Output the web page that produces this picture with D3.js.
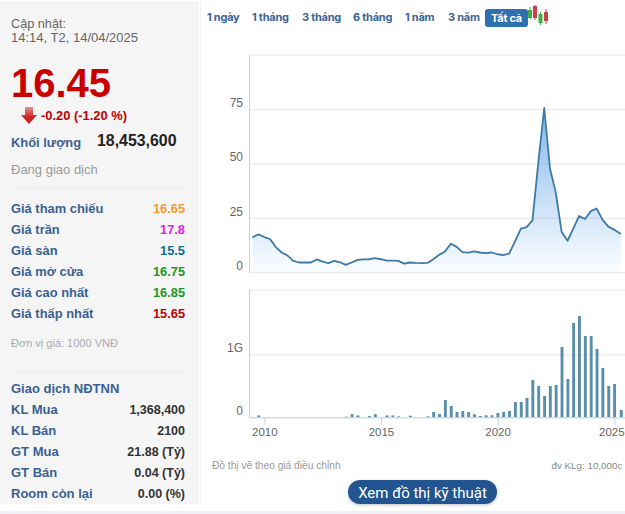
<!DOCTYPE html>
<html><head><meta charset="utf-8">
<script src="https://cdnjs.cloudflare.com/ajax/libs/d3/7.8.5/d3.min.js"></script>
<style>html,body{margin:0;padding:0;background:#fff;overflow:hidden}svg{display:block}text{font-family:"Liberation Sans",Arial,sans-serif}</style>
</head><body><svg id="c" width="625" height="514"></svg>
<script>
// ---- data ----
const quarterDates = ["2009-06-30","2009-09-30","2009-12-31","2010-03-31","2010-06-30","2010-09-30","2010-12-31","2011-03-31","2011-06-30","2011-09-30","2011-12-31","2012-03-31","2012-06-30","2012-09-30","2012-12-31","2013-03-31","2013-06-30","2013-09-30","2013-12-31","2014-03-31","2014-06-30","2014-09-30","2014-12-31","2015-03-31","2015-06-30","2015-09-30","2015-12-31","2016-03-31","2016-06-30","2016-09-30","2016-12-31","2017-03-31","2017-06-30","2017-09-30","2017-12-31","2018-03-31","2018-06-30","2018-09-30","2018-12-31","2019-03-31","2019-06-30","2019-09-30","2019-12-31","2020-03-31","2020-06-30","2020-09-30","2020-12-31","2021-03-31","2021-06-30","2021-09-30","2021-12-31","2022-03-31","2022-06-30","2022-09-30","2022-12-31","2023-03-31","2023-06-30","2023-09-30","2023-12-31","2024-03-31","2024-06-30","2024-09-30","2024-12-31","2025-04-14"];
const prices = [16.05,17.4,16.2,15.3,11.6,9.1,7.7,5.25,4.5,4.5,4.5,5.9,4.9,4.2,5.25,4.6,3.4,4.5,5.7,5.9,6.0,6.5,6.0,5.4,5.4,5.25,4.0,4.5,4.3,4.2,4.3,6.0,8.0,9.6,13.1,11.7,9.3,9.0,9.6,9.1,8.8,9.1,8.3,7.9,8.6,14.2,20.1,20.8,23.9,50.5,75.5,47.7,36.6,18.5,14.5,20.1,25.9,24.5,28.1,29.3,24.2,21,19.6,17.6];
const volumesG = [0,.03,0,0,0,0,0,0,0,0,0,0,0,0,0,0,.01,.05,.03,0,.02,.05,0,.03,.03,.015,0,.025,0,0,.016,.085,.053,.275,.18,.085,.10,.085,.048,.021,.032,.032,.069,.085,.10,.243,.243,.307,.593,.497,.339,.497,.513,1.116,.608,1.497,1.608,1.291,1.291,1.085,.783,.497,.529,.116];
const priceTicks = [0,25,50,75,100];
const volumeTicks = [0,1];
const yearTicks = [2010,2015,2020,2025];
const rangeTabs = [["1 ngày",207],["1 tháng",252],["3 tháng",302],["6 tháng",353],["1 năm",405],["3 năm",448]];
const priceRowLabels = ["Giá tham chiếu","Giá trần","Giá sàn","Giá mở cửa","Giá cao nhất","Giá thấp nhất"];
const priceRowValues = ["16.65","17.8","15.5","16.75","16.85","15.65"];
const priceRowColors = ["#f59a2f","#e61fdc","#126f92","#1c981c","#1c981c","#c40000"];
const foreignLabels = ["KL Mua","KL Bán","GT Mua","GT Bán","Room còn lại"];
const foreignValues = ["1,368,400","2100","21.88 (Tỷ)","0.04 (Tỷ)","0.00 (%)"];

// ---- helpers ----
const svg = d3.select("#c");
const blue = "#3a6194";
function t(x,y,s,o={}){return svg.append("text").attr("x",x).attr("y",y).text(s)
  .attr("font-size",o.size||13).attr("font-weight",o.w||"normal").attr("fill",o.fill||"#333")
  .attr("text-anchor",o.anchor||"start").style("font-family",o.font||null).style("letter-spacing",o.ls||null);}

// ---- panels ----
svg.append("rect").attr("x",0).attr("y",1).attr("width",199).attr("height",503).attr("fill","#f5f5f6");
svg.append("rect").attr("x",0).attr("y",511).attr("width",625).attr("height",3).attr("fill","#eef0f3");
svg.append("line").attr("x1",200.5).attr("x2",200.5).attr("y1",0).attr("y2",504).attr("stroke","#f2f2f2");

// left column
t(11,28,"Cập nhật:",{size:12.7,fill:"#666"});
t(11,42,"14:14, T2, 14/04/2025",{size:13,fill:"#666"});
t(11,97,"16.45",{size:40,w:"bold",fill:"#c90000"});
const arrow = d3.path();
arrow.moveTo(25,107);arrow.lineTo(33,107);arrow.lineTo(33,115);arrow.lineTo(37,115);arrow.lineTo(29,124);arrow.lineTo(21,115);arrow.lineTo(25,115);arrow.closePath();
const defs = svg.append("defs");
const ag = defs.append("linearGradient").attr("id","arr").attr("x1",0).attr("x2",0).attr("y1",0).attr("y2",1);
ag.append("stop").attr("offset",0).attr("stop-color","#e89090");
ag.append("stop").attr("offset",.6).attr("stop-color","#cf2020");
svg.append("path").attr("d",arrow.toString()).attr("fill","url(#arr)");
t(41,120,"-0.20 (-1.20 %)",{size:12.9,w:"bold",fill:"#c40000"});
t(11,147,"Khối lượng",{size:12.9,w:"bold",fill:blue});
t(97,146,"18,453,600",{size:15.9,w:"bold",fill:"#222"});
t(11,174,"Đang giao dịch",{size:13,fill:"#999"});
svg.append("line").attr("x1",11).attr("x2",186).attr("y1",187.5).attr("y2",187.5).attr("stroke","#ececec");
priceRowLabels.forEach((l,i)=>{const y=212.5+21*i;
  t(11,y,l,{size:12.9,w:"bold",fill:blue});
  t(185,y,priceRowValues[i],{size:12.8,w:"bold",fill:priceRowColors[i],anchor:"end"});});
t(11,347,"Đơn vị giá: 1000 VNĐ",{size:11,fill:"#aaa"});
svg.append("line").attr("x1",11).attr("x2",186).attr("y1",372.5).attr("y2",372.5).attr("stroke","#ececec");
t(11,392.5,"Giao dịch NĐTNN",{size:13,w:"bold",fill:blue});
foreignLabels.forEach((l,i)=>{const y=413.5+21*i;
  t(11,y,l,{size:13,w:"bold",fill:blue});
  t(185,y,foreignValues[i],{size:12.5,w:"bold",fill:"#333",anchor:"end"});});

// range tabs
rangeTabs.forEach(([l,x])=>t(x,21,l,{size:11,w:700,fill:"#3d6594",font:"Inter",ls:"-0.25px"}));
svg.append("rect").attr("x",485).attr("y",9).attr("width",43).attr("height",18).attr("rx",3).attr("fill","#2f70b0");
t(506.5,21.5,"Tất cả",{size:11,w:700,fill:"#fff",anchor:"middle",font:"Inter",ls:"-0.25px"});
// candle icon
[[530,10,18,7,19,"#3cb043"],[535,6,18,5,20,"#c9404a"],[540.5,14,23,12,25,"#3cb043"],[546,12,21,9,24,"#c9404a"]].forEach(([x,a,b,w1,w2,c])=>{
  svg.append("line").attr("x1",x).attr("x2",x).attr("y1",w1).attr("y2",w2).attr("stroke",c);
  svg.append("rect").attr("x",x-2).attr("y",a).attr("width",4).attr("height",b-a).attr("fill",c);});

// ---- scales ----
const dates = quarterDates.map(d=>new Date(d+"T00:00:00Z"));
const x = d3.scaleUtc().domain([new Date("2010-01-01T00:00:00Z"),new Date("2025-01-01T00:00:00Z")]).range([264.3,614.3]);
const yP = d3.scaleLinear().domain([0,100]).range([272.3,54.7]);
const yV = d3.scaleLinear().domain([0,2.025]).range([417.3,289.7]);
const L = 249.5, R = 625;

// gridlines and axes
const gridP = d3.axisLeft(yP).tickValues(priceTicks).tickSize(-(R-L)).tickFormat(d=>d===100?"":d);
const gP = svg.append("g").attr("transform",`translate(${L},0)`).call(gridP);
const gridV = d3.axisLeft(yV).tickValues(volumeTicks.concat([2.025])).tickSize(-(R-L)).tickFormat(d=>d===0?"0":d===1?"1G":"");
const gV = svg.append("g").attr("transform",`translate(${L},0)`).call(gridV);
[gP,gV].forEach(g=>{
  g.select(".domain").attr("stroke","#c5d3e0").attr("d",null);
  g.selectAll("line").attr("stroke","#e6e6e6");
  g.selectAll("text").attr("x",-6.5).attr("dy",0).attr("dx",0).attr("y",-2.6)
    .attr("font-size",12).attr("fill","#666").style("font-family",'"Liberation Sans"');
});
svg.append("line").attr("x1",L).attr("x2",L).attr("y1",54.7).attr("y2",272.3).attr("stroke","#c5d3e0");
svg.append("line").attr("x1",L).attr("x2",L).attr("y1",289.7).attr("y2",417.3).attr("stroke","#c5d3e0");

// area & line
const grad = defs.append("linearGradient").attr("id","fillP").attr("gradientUnits","userSpaceOnUse")
  .attr("x1",0).attr("x2",0).attr("y1",yP(75)).attr("y2",yP(0));
grad.append("stop").attr("offset",0).attr("stop-color","#6aa9e8").attr("stop-opacity",.85);
grad.append("stop").attr("offset",1).attr("stop-color","#7db6ee").attr("stop-opacity",.04);
const area = d3.area().x((d,i)=>x(dates[i])).y0(yP(0)).y1(d=>yP(d));
const line = d3.line().x((d,i)=>x(dates[i])).y(d=>yP(d));
svg.append("path").datum(prices).attr("d",area).attr("fill","url(#fillP)");
svg.append("path").datum(prices).attr("d",line).attr("fill","none").attr("stroke","#3f79a6").attr("stroke-width",1.8).attr("stroke-linejoin","round");

// volume bars
svg.append("g").selectAll("rect").data(volumesG).join("rect")
  .attr("x",(d,i)=>x(dates[i])-1.1).attr("width",2.9)
  .attr("y",d=>yV(d)).attr("height",d=>yV(0)-yV(d)).attr("fill","#5a8fab");

// x axis
const gX = svg.append("g").attr("transform",`translate(0,${yV(0)})`).call(
  d3.axisBottom(x).tickValues(yearTicks.map(y=>new Date(Date.UTC(y,0,1)))).tickSize(8).tickFormat(d3.utcFormat("%Y")));
gX.select(".domain").attr("d",`M${L},0.5H${R}`).attr("stroke","#c5d3e0");
gX.selectAll("line").attr("stroke","#c5d3e0");
gX.selectAll("text").attr("y",11).attr("dy","0.71em").attr("font-size",11.5).attr("fill","#666").style("font-family",'"Liberation Sans"');
// the last year label is pulled inside the right edge
gX.selectAll("text").filter(d=>d.getUTCFullYear()===2025).attr("dx",-3);

// footer
t(212,469,"Đồ thị vẽ theo giá điều chỉnh",{size:10.2,fill:"#999"});
t(551.5,469,"đv KLg: 10,000c",{size:9.8,fill:"#888"});
const sh = defs.append("filter").attr("id","sh").attr("x","-10%").attr("y","-30%").attr("width","120%").attr("height","170%");
sh.append("feDropShadow").attr("dx",0).attr("dy",1).attr("stdDeviation",1.5).attr("flood-color","#000").attr("flood-opacity",.25);
svg.append("rect").attr("x",348).attr("y",480).attr("width",149).attr("height",24).attr("rx",12).attr("fill","#23548f").attr("filter","url(#sh)");
t(422.5,497.5,"Xem đồ thị kỹ thuật",{size:15,fill:"#fff",anchor:"middle",font:"Roboto"});
</script></body></html>
